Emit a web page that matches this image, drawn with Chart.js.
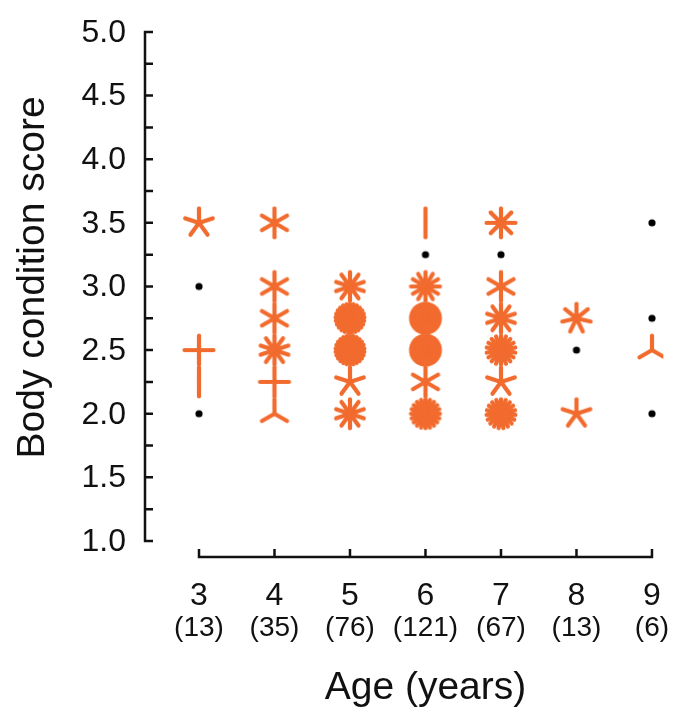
<!DOCTYPE html>
<html>
<head>
<meta charset="utf-8">
<script src="https://cdn.jsdelivr.net/npm/chart.js@4"></script>
<style>
  html, body { margin: 0; padding: 0; background: #fff; }
  #wrap { width: 689px; height: 721px; position: relative; }
</style>
</head>
<body>
<div id="wrap"><canvas id="bcsChart"></canvas></div>
<script>
// Ages on the x axis and the sample size shown under each
const ages = [3, 4, 5, 6, 7, 8, 9];
const sampleSizes = [13, 35, 76, 121, 67, 13, 6];

// Body condition score levels, and number of animals at each level per age
const scoreLevels = [2.0, 2.25, 2.5, 2.75, 3.0, 3.25, 3.5];
const countsAge3 = [1, 2, 4, 0, 1, 0, 5];
const countsAge4 = [3, 4, 10, 6, 6, 0, 6];
const countsAge5 = [10, 5, 26, 25, 10, 0, 0];
const countsAge6 = [20, 6, 40, 40, 12, 1, 2];
const countsAge7 = [19, 5, 18, 10, 6, 1, 8];
const countsAge8 = [5, 0, 1, 7, 0, 0, 0];
const countsAge9 = [1, 0, 3, 1, 0, 0, 1];
const countsByAge = [countsAge3, countsAge4, countsAge5, countsAge6, countsAge7, countsAge8, countsAge9];

const yTicks = [1.0, 1.5, 2.0, 2.5, 3.0, 3.5, 4.0, 4.5, 5.0];

const ORANGE = '#f26b2e';
const FONT = "'Liberation Sans', Arial, sans-serif";

// sunflower glyph: one petal per animal, a plain dot for a single one
const flowerCache = {};
function flower(n) {
    if (flowerCache[n]) return flowerCache[n];
    const size = 44;
    const c = document.createElement('canvas');
    c.width = size; c.height = size;
    const g = c.getContext('2d');
    const cx = size / 2, cy = size / 2;
    if (n === 1) {
        g.fillStyle = '#000';
        g.beginPath();
        g.arc(cx, cy, 3.6, 0, Math.PI * 2);
        g.fill();
    } else {
        const len = 14.5;
        g.strokeStyle = ORANGE;
        g.lineWidth = 4.2;
        g.lineCap = 'round';
        for (let i = 0; i < n; i++) {
            const a = -Math.PI / 2 + i * 2 * Math.PI / n;
            g.beginPath();
            g.moveTo(cx, cy);
            g.lineTo(cx + Math.cos(a) * len, cy + Math.sin(a) * len);
            g.stroke();
        }
    }
    flowerCache[n] = c;
    return c;
}

const points = [];
ages.forEach((age, i) => {
    countsByAge[i].forEach((n, j) => {
        if (n > 0) points.push({ x: age, y: scoreLevels[j], n: n });
    });
});

// axes are drawn detached from each other, with inward ticks
const axesPlugin = {
    id: 'axes',
    afterDraw(chart) {
        const ctx = chart.ctx;
        const xs = chart.scales.x;
        const ys = chart.scales.y;
        const axisX = xs.getPixelForValue(3) - 54;
        const axisY = ys.getPixelForValue(1) + 16;
        ctx.save();
        ctx.strokeStyle = '#111';
        ctx.fillStyle = '#111';
        ctx.lineWidth = 2.5;
        ctx.lineCap = 'butt';

        // y axis
        ctx.beginPath();
        ctx.moveTo(axisX, ys.getPixelForValue(5));
        ctx.lineTo(axisX, ys.getPixelForValue(1));
        for (let v = 1; v <= 5.001; v += 0.25) {
            const py = ys.getPixelForValue(v);
            ctx.moveTo(axisX - 1.2, py);
            ctx.lineTo(axisX + 8, py);
        }
        ctx.stroke();

        ctx.font = '32px ' + FONT;
        ctx.textAlign = 'right';
        ctx.textBaseline = 'middle';
        yTicks.forEach(v => {
            ctx.fillText(v.toFixed(1), axisX - 19, ys.getPixelForValue(v) + 1);
        });

        // x axis
        ctx.beginPath();
        ctx.moveTo(xs.getPixelForValue(3), axisY);
        ctx.lineTo(xs.getPixelForValue(9), axisY);
        ages.forEach(a => {
            const px = xs.getPixelForValue(a);
            ctx.moveTo(px, axisY + 1.2);
            ctx.lineTo(px, axisY - 8);
        });
        ctx.stroke();

        ctx.textAlign = 'center';
        ages.forEach((a, i) => {
            const px = xs.getPixelForValue(a);
            ctx.font = '32px ' + FONT;
            ctx.fillText(String(a), px, axisY + 39);
            ctx.font = '28px ' + FONT;
            ctx.fillText('(' + sampleSizes[i] + ')', px, axisY + 71);
        });

        // axis titles
        ctx.font = '39px ' + FONT;
        ctx.fillText('Age (years)', (xs.getPixelForValue(3) + xs.getPixelForValue(9)) / 2, axisY + 131);
        ctx.translate(33, (ys.getPixelForValue(1) + ys.getPixelForValue(5)) / 2 - 9);
        ctx.rotate(-Math.PI / 2);
        ctx.fillText('Body condition score', 0, 0);
        ctx.restore();
    }
};

new Chart(document.getElementById('bcsChart'), {
    type: 'scatter',
    data: {
        datasets: [{
            data: points,
            pointStyle: ctx => flower(ctx.raw ? ctx.raw.n : 1),
            pointRadius: 10
        }]
    },
    options: {
        responsive: true,
        maintainAspectRatio: false,
        animation: false,
        layout: { padding: { left: 138.6, right: 25.7, top: 25.6, bottom: 154.6 } },
        scales: {
            x: { type: 'linear', min: 2.2, max: 9.15, display: false },
            y: { type: 'linear', min: 0.8, max: 5.05, display: false }
        },
        plugins: {
            legend: { display: false },
            tooltip: { enabled: false }
        }
    },
    plugins: [axesPlugin]
});
</script>
</body>
</html>
